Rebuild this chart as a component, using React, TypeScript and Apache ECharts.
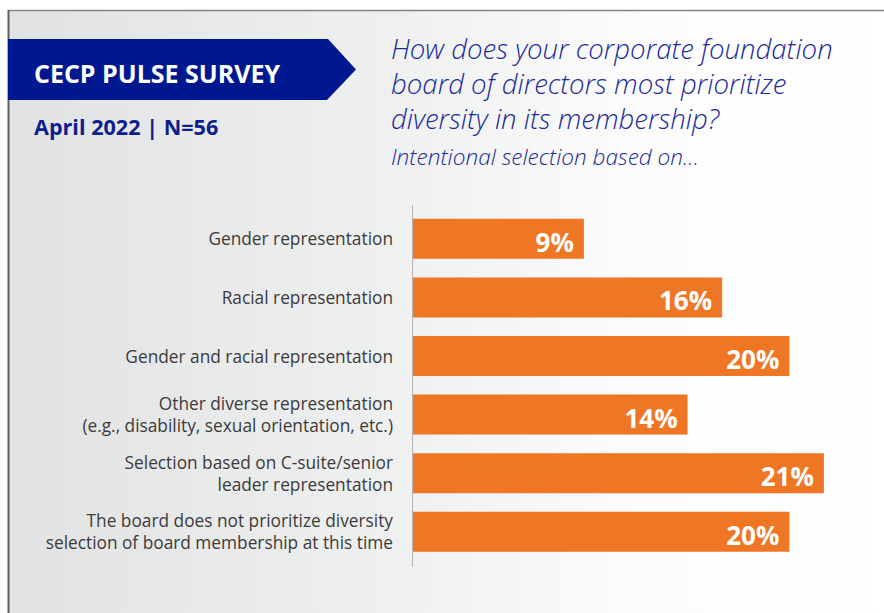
import React, { useEffect, useRef } from "react";
import * as echarts from "echarts";

const categories = [
  "Gender representation",
  "Racial representation",
  "Gender and racial representation",
  "Other diverse representation\n(e.g., disability, sexual orientation, etc.)",
  "Selection based on C-suite/senior\nleader representation",
  "The board does not prioritize diversity\nselection of board membership at this time",
];
const values = [8.9, 16.1, 19.6, 14.3, 21.4, 19.6];
const valueLabels = ["9%", "16%", "20%", "14%", "21%", "20%"];

const bannerText = "CECP PULSE SURVEY";
const dateText = "April 2022 | N=56";
const titleLines = [
  "How does your corporate foundation",
  "board of directors most prioritize",
  "diversity in its membership?",
];
const subtitleText = "Intentional selection based on…";

const FONT = "'Open Sans', 'Noto Sans', sans-serif";

export default function App() {
  const ref = useRef<HTMLDivElement>(null);
  useEffect(() => {
    if (!ref.current) return;
    const chart = echarts.init(ref.current, null, { renderer: "svg" });
    const titleGraphics = titleLines.map((t, i) => ({
      type: "text",
      x: 391,
      y: 48 + i * 35,
      z: 10,
      style: {
        text: t,
        fill: "#1c2b9a",
        font: `italic 300 27.6px ${FONT}`,
        verticalAlign: "middle",
        align: "left",
      },
    }));
    chart.setOption({
      animation: false,
      grid: {
        left: 413,
        top: 209.5,
        width: 460.8,
        height: 351.6,
        containLabel: false,
        outerBoundsMode: "none",
      },
      xAxis: { type: "value", min: 0, max: 24, show: false },
      yAxis: {
        type: "category",
        inverse: true,
        data: categories,
        axisLine: { show: false },
        axisTick: { show: false },
        splitLine: { show: false },
        axisLabel: {
          fontFamily: FONT,
          fontSize: 17.3,
          color: "#3b3b3b",
          lineHeight: 22,
          margin: 20,
          align: "right",
        },
      },
      series: [
        {
          type: "bar",
          data: values,
          barWidth: 40,
          itemStyle: { color: "#ee7624" },
          label: {
            show: true,
            position: "insideRight",
            distance: 10,
            offset: [0, 3],
            formatter: (p: any) => valueLabels[p.dataIndex],
            color: "#ffffff",
            fontFamily: FONT,
            fontWeight: "bold",
            fontSize: 26,
          },
        },
      ],
      graphic: [
        {
          type: "rect",
          z: -10,
          shape: { x: 8, y: 10, width: 876, height: 603 },
          style: {
            fill: new echarts.graphic.LinearGradient(0, 0, 1, 0, [
              { offset: 0, color: "#e1e2e3" },
              { offset: 0.45, color: "#eff0f0" },
              { offset: 0.72, color: "#fcfcfc" },
              { offset: 1, color: "#ffffff" },
            ]),
          },
        },
        {
          type: "line",
          z: 5,
          shape: { x1: 8, y1: 10.5, x2: 884, y2: 10.5 },
          style: { stroke: "#858585", lineWidth: 1.5 },
        },
        {
          type: "line",
          z: 5,
          shape: { x1: 8.5, y1: 10, x2: 8.5, y2: 613 },
          style: { stroke: "#5e5e5e", lineWidth: 2 },
        },
        {
          type: "line",
          z: 5,
          shape: { x1: 412.5, y1: 205, x2: 412.5, y2: 567 },
          style: { stroke: "#b3b3b3", lineWidth: 1 },
        },
        {
          type: "polygon",
          z: 5,
          shape: {
            points: [
              [8, 39],
              [328, 39],
              [356, 69.5],
              [327, 100],
              [8, 100],
            ],
          },
          style: { fill: "#00188f" },
        },
        {
          type: "text",
          x: 34,
          y: 73,
          z: 10,
          style: {
            text: bannerText,
            fill: "#ffffff",
            font: `bold 25px ${FONT}`,
            verticalAlign: "middle",
          },
        },
        {
          type: "text",
          x: 34,
          y: 126,
          z: 10,
          style: {
            text: dateText,
            fill: "#0c1f8c",
            font: `bold 21.6px ${FONT}`,
            verticalAlign: "middle",
          },
        },
        ...titleGraphics,
        {
          type: "text",
          x: 391,
          y: 156,
          z: 10,
          style: {
            text: subtitleText,
            fill: "#1c2b9a",
            font: `italic 300 22.6px ${FONT}`,
            verticalAlign: "middle",
          },
        },
      ],
    });
    return () => chart.dispose();
  }, []);
  return (
    <div
      ref={ref}
      style={{ position: "fixed", left: 0, top: 0, width: 884, height: 613, background: "#ffffff" }}
    />
  );
}
